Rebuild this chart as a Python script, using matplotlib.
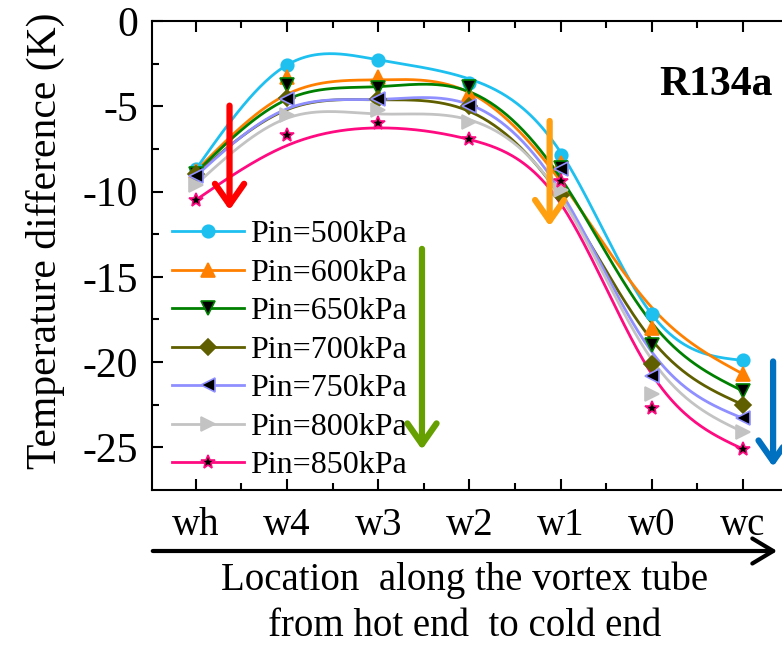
import numpy as np
import matplotlib
matplotlib.use("Agg")
import matplotlib.pyplot as plt
from matplotlib.lines import Line2D

plt.rcParams['font.family'] = ['Liberation Serif', 'DejaVu Serif']
plt.rcParams['axes.unicode_minus'] = False

# measuring stations along the tube, hot end -> cold end
locations = ["wh", "w4", "w3", "w2", "w1", "w0", "wc"]
pressures = ["Pin=500kPa", "Pin=600kPa", "Pin=650kPa", "Pin=700kPa",
             "Pin=750kPa", "Pin=800kPa", "Pin=850kPa"]

# measured temperature difference (K)
dt_500 = [-8.7, -2.58, -2.28, -3.65, -7.85, -17.2, -19.9]
dt_600 = [-8.8, -3.28, -3.28, -4.3, -8.3, -18.0, -20.7]
dt_650 = [-8.95, -3.75, -3.9, -3.85, -8.6, -19.0, -21.7]
dt_700 = [-9.0, -4.5, -4.55, -5.0, -10.2, -20.1, -22.5]
dt_750 = [-9.1, -4.6, -4.57, -5.0, -8.7, -20.8, -23.3]
dt_800 = [-9.6, -5.5, -5.2, -5.9, -9.9, -21.9, -24.1]
dt_850 = [-10.5, -6.7, -5.97, -6.9, -9.4, -22.7, -25.1]

# fitted trend values at each station
fit_500 = [-8.7, -2.58, -2.28, -3.4, -7.7, -17.2, -19.9]
fit_600 = [-8.8, -4.3, -3.45, -4.2, -9.4, -16.8, -20.7]
fit_650 = [-8.9, -4.6, -3.85, -4.15, -9.2, -17.7, -21.7]
fit_700 = [-9.0, -5.2, -4.62, -5.3, -10.3, -18.7, -22.5]
fit_750 = [-9.1, -5.15, -4.6, -4.9, -10.0, -19.4, -23.3]
fit_800 = [-9.6, -5.7, -5.45, -5.8, -10.3, -19.85, -24.1]
fit_850 = [-10.5, -7.3, -6.27, -6.95, -10.7, -20.7, -25.1]

measured = [dt_500, dt_600, dt_650, dt_700, dt_750, dt_800, dt_850]
fitted = [fit_500, fit_600, fit_650, fit_700, fit_750, fit_800, fit_850]

colors = ['#1EC0F0', '#FF8000', '#008000', '#5F5F00', '#8F8FFF', '#C3C3C3', '#FF0A80']
markers = ['o', '^', 'v', 'D', '<', '>', '*']
faces = ['#1EC0F0', '#FF8000', 'black', '#5F5F00', 'black', '#C3C3C3', 'black']
msizes = [9, 10, 10, 8, 10, 10, 10]


def natural_spline(xk, yk, n=300):
    xk = np.asarray(xk, float)
    yk = np.asarray(yk, float)
    m = len(xk)
    h = np.diff(xk)
    A = np.zeros((m, m))
    b = np.zeros(m)
    A[0, 0] = 1.0
    A[-1, -1] = 1.0
    for i in range(1, m - 1):
        A[i, i - 1] = h[i - 1]
        A[i, i] = 2 * (h[i - 1] + h[i])
        A[i, i + 1] = h[i]
        b[i] = 6 * ((yk[i + 1] - yk[i]) / h[i] - (yk[i] - yk[i - 1]) / h[i - 1])
    M = np.linalg.solve(A, b)
    xs = np.linspace(xk[0], xk[-1], n)
    idx = np.clip(np.searchsorted(xk, xs) - 1, 0, m - 2)
    x0, x1 = xk[idx], xk[idx + 1]
    hh = x1 - x0
    t0, t1 = x1 - xs, xs - x0
    ys = (M[idx] * t0 ** 3 + M[idx + 1] * t1 ** 3) / (6 * hh) \
        + (yk[idx] / hh - M[idx] * hh / 6) * t0 \
        + (yk[idx + 1] / hh - M[idx + 1] * hh / 6) * t1
    return xs, ys


x = np.arange(len(locations))

fig = plt.figure(figsize=(7.82, 6.47), dpi=100)
ax = fig.add_axes([152 / 782, 157 / 647, 636.6 / 782, 469 / 647])

handles = []
for vals, fit, c, mk, fc, ms, lab in zip(measured, fitted, colors, markers, faces, msizes, pressures):
    xs, ys = natural_spline(x, fit)
    ax.plot(xs, ys, color=c, lw=2.0, zorder=2)
    ax.plot(x, vals, ls='none', marker=mk, ms=ms, mfc=fc, mec=c, mew=1.2, zorder=3)
    handles.append(Line2D([], [], color=c, lw=2.0, marker=mk, ms=ms, mfc=fc, mec=c, mew=1.2))

ax.set_xlim(-0.48, 6.5)
ax.set_ylim(-27.5, 0)
ax.set_xticks(x)
ax.set_xticklabels(locations)
ax.set_xticks(x[:-1] + 0.5, minor=True)
ax.set_yticks([0, -5, -10, -15, -20, -25])
ax.set_yticks(np.arange(-25, 0, 2.5), minor=True)
ax.tick_params(which='both', direction='in', top=True, right=False, width=1.5)
ax.tick_params(which='major', length=8)
ax.tick_params(which='minor', length=5)
ax.tick_params(axis='y', labelsize=30, pad=10)
ax.tick_params(axis='x', labelsize=28, pad=12)
for s in ax.spines.values():
    s.set_linewidth(1.5)
ax.spines['right'].set_visible(False)

leg = ax.legend(handles, pressures, loc='upper left', frameon=False, fontsize=23,
                bbox_to_anchor=(172 / 782, 1 - 220 / 647), bbox_transform=fig.transFigure,
                borderpad=0, borderaxespad=0, handlelength=2.25, handletextpad=0.2,
                labelspacing=0.285)

ax.text(0.886, 0.864, "R134a", transform=ax.transAxes, fontsize=30,
        fontweight='bold', ha='center', va='center')

# trend arrows
arrow_specs = [
    (0.37, -4.8, -11.25, '#FF0000'),
    (3.88, -5.7, -12.2, '#FFA010'),
    (2.48, -13.2, -25.3, '#66A000'),
    (6.33, -19.8, -26.3, '#0070C0'),
]
for ax_x, y_top, y_tip, c in arrow_specs:
    ax.annotate('', xy=(ax_x, y_tip), xytext=(ax_x, y_top),
                arrowprops=dict(arrowstyle='->,head_length=0.5,head_width=0.35',
                                color=c, lw=4.5, mutation_scale=30),
                annotation_clip=False, zorder=4)

fig.text(0.058, 1 - 241 / 647, "Temperature difference (K)", rotation=90,
         fontsize=30, ha='center', va='center')

# direction arrow under the location axis
ax.annotate('', xy=(780 / 782, 1 - 551 / 647), xytext=(150 / 782, 1 - 551 / 647),
            xycoords='figure fraction', textcoords='figure fraction',
            arrowprops=dict(arrowstyle='->,head_length=0.5,head_width=0.3',
                        color='black', lw=3, mutation_scale=30))
fig.text(465 / 782, 1 - 580 / 647, "Location  along the vortex tube",
         fontsize=28, ha='center', va='center')
fig.text(465 / 782, 1 - 627 / 647, "from hot end  to cold end",
         fontsize=28, ha='center', va='center')

fig.savefig("out.png", dpi=100)
